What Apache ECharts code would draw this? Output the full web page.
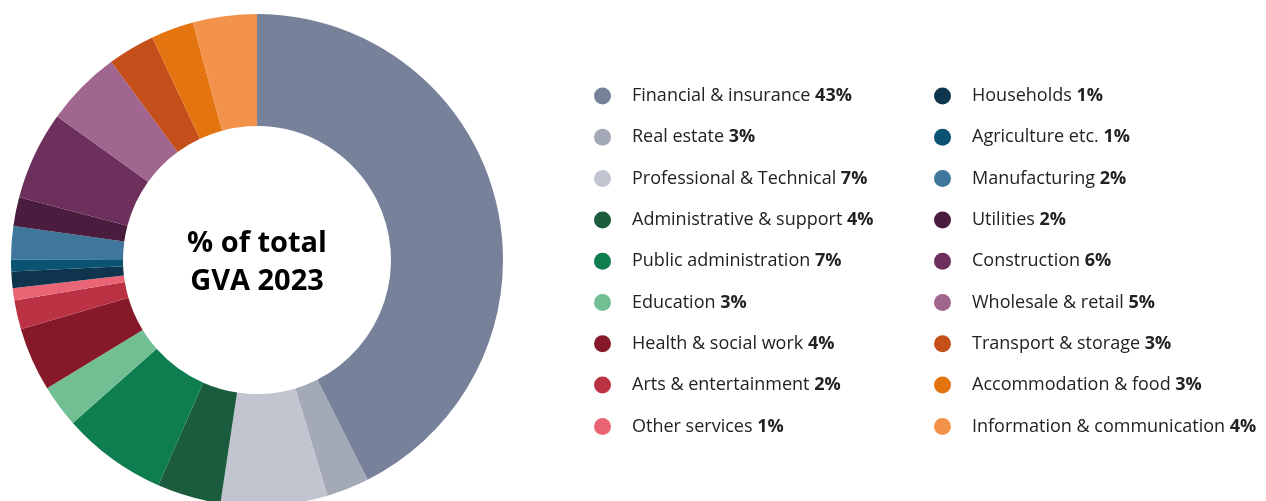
<!DOCTYPE html>
<html>
<head>
<meta charset="utf-8">
<script src="https://cdn.jsdelivr.net/npm/echarts@6/dist/echarts.min.js"></script>
<style>
  html, body { margin: 0; padding: 0; background: #ffffff; }
  #chart { width: 1266px; height: 501px; }
</style>
</head>
<body>
<div id="chart"></div>
<script>
// Share of total gross value added (GVA), 2023, by sector (%)
const sectors = [
  'Financial & insurance', 'Real estate', 'Professional & Technical',
  'Administrative & support', 'Public administration', 'Education',
  'Health & social work', 'Arts & entertainment', 'Other services',
  'Households', 'Agriculture etc.', 'Manufacturing', 'Utilities',
  'Construction', 'Wholesale & retail', 'Transport & storage',
  'Accommodation & food', 'Information & communication'
];
const shares = [
  42.6, 2.8, 7.0,
  4.2, 6.9, 2.8,
  4.2, 1.9, 0.8,
  1.1, 0.75, 2.2, 1.9,
  5.8, 5.0, 3.1,
  2.8, 4.2
];
const sectorColors = [
  '#778199', '#a4a9b7', '#c2c4d0',
  '#1a5c3d', '#0e7d4f', '#73bf94',
  '#85192a', '#bb3244', '#e96474',
  '#0f344d', '#0a5373', '#3e779b', '#4a1c3e',
  '#6d2f5b', '#a0668f', '#c54f1a',
  '#e3740f', '#f3924a'
];
const centreTitle = ['% of total', 'GVA 2023'];

const FONT = '"Open Sans", "Noto Sans", sans-serif';
const shareByName = {};
sectors.forEach((s, i) => { shareByName[s] = shares[i]; });

const pieData = sectors.map((s, i) => ({
  name: s,
  value: shares[i],
  itemStyle: { color: sectorColors[i] }
}));

function legendBlock(names, left) {
  return {
    data: names,
    orient: 'vertical',
    left: left,
    top: 87,
    padding: 0,
    itemWidth: 17,
    itemHeight: 17,
    itemGap: 23.3,
    icon: 'circle',
    selectedMode: false,
    formatter: name => name + ' {b|' + Math.round(shareByName[name]) + '%}',
    textStyle: {
      fontFamily: FONT,
      fontSize: 18,
      lineHeight: 17,
      color: '#222222',
      padding: [0, 0, 0, 16],
      rich: {
        b: { fontFamily: FONT, fontSize: 18, lineHeight: 17, fontWeight: 'bold', color: '#222222' }
      }
    }
  };
}

const chart = echarts.init(document.getElementById('chart'), null, { renderer: 'canvas' });
chart.setOption({
  animation: false,
  backgroundColor: '#ffffff',
  legend: [
    legendBlock(sectors.slice(0, 9), 594),
    legendBlock(sectors.slice(9), 934)
  ],
  graphic: [{
    type: 'text',
    x: 257,
    y: 263,
    style: {
      text: centreTitle.join('\n'),
      align: 'center',
      verticalAlign: 'middle',
      fontFamily: FONT,
      fontSize: 29,
      fontWeight: 'bold',
      lineHeight: 38,
      fill: '#000000'
    }
  }],
  series: [{
    type: 'pie',
    center: [257, 260],
    radius: [134, 246],
    startAngle: 90,
    clockwise: true,
    avoidLabelOverlap: false,
    label: { show: false },
    labelLine: { show: false },
    emphasis: { disabled: true },
    itemStyle: { borderWidth: 0 },
    data: pieData
  }]
});
</script>
</body>
</html>
